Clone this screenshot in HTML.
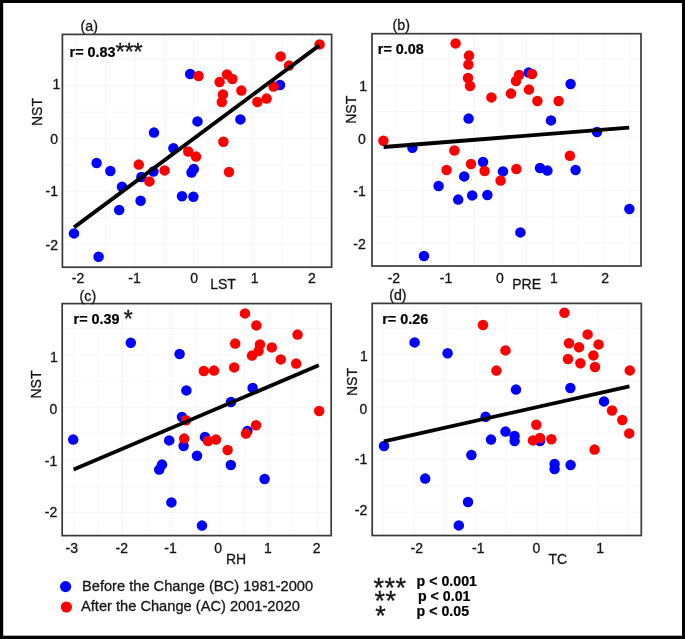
<!DOCTYPE html>
<html lang="en"><head><meta charset="utf-8"><title>NST correlations</title>
<style>html,body{margin:0;padding:0;background:#fff;}body{width:685px;height:639px;overflow:hidden;}svg{display:block;}text{font-family:"Liberation Sans", sans-serif;fill:#151515;stroke:#151515;stroke-width:0.3px;}.b{font-weight:bold;fill:#000;stroke:#000;stroke-width:0.2px;}</style></head><body>
<svg width="685" height="639" viewBox="0 0 685 639">
<defs><filter id="soft" x="0" y="0" width="685" height="639" filterUnits="userSpaceOnUse"><feColorMatrix type="matrix" values="1 0 0 0 0 0 1 0 0 0 0 0 1 0 0 0 0 0 1 0"/></filter></defs>
<rect x="0" y="0" width="685" height="639" fill="#fff"/>
<g filter="url(#soft)">
<g>
<rect x="62.4" y="34.4" width="269.2" height="232.8" fill="#fff"/>
<line x1="76.40" y1="34.4" x2="76.40" y2="267.2" stroke="#f6f6f6" stroke-width="1"/>
<line x1="105.75" y1="34.4" x2="105.75" y2="267.2" stroke="#f6f6f6" stroke-width="1"/>
<line x1="135.10" y1="34.4" x2="135.10" y2="267.2" stroke="#f6f6f6" stroke-width="1"/>
<line x1="164.45" y1="34.4" x2="164.45" y2="267.2" stroke="#f6f6f6" stroke-width="1"/>
<line x1="193.80" y1="34.4" x2="193.80" y2="267.2" stroke="#f6f6f6" stroke-width="1"/>
<line x1="223.15" y1="34.4" x2="223.15" y2="267.2" stroke="#f6f6f6" stroke-width="1"/>
<line x1="252.50" y1="34.4" x2="252.50" y2="267.2" stroke="#f6f6f6" stroke-width="1"/>
<line x1="281.85" y1="34.4" x2="281.85" y2="267.2" stroke="#f6f6f6" stroke-width="1"/>
<line x1="311.20" y1="34.4" x2="311.20" y2="267.2" stroke="#f6f6f6" stroke-width="1"/>
<line x1="62.4" y1="59.40" x2="331.6" y2="59.40" stroke="#f6f6f6" stroke-width="1"/>
<line x1="62.4" y1="85.80" x2="331.6" y2="85.80" stroke="#f6f6f6" stroke-width="1"/>
<line x1="62.4" y1="112.20" x2="331.6" y2="112.20" stroke="#f6f6f6" stroke-width="1"/>
<line x1="62.4" y1="138.60" x2="331.6" y2="138.60" stroke="#f6f6f6" stroke-width="1"/>
<line x1="62.4" y1="165.00" x2="331.6" y2="165.00" stroke="#f6f6f6" stroke-width="1"/>
<line x1="62.4" y1="191.40" x2="331.6" y2="191.40" stroke="#f6f6f6" stroke-width="1"/>
<line x1="62.4" y1="217.80" x2="331.6" y2="217.80" stroke="#f6f6f6" stroke-width="1"/>
<line x1="62.4" y1="244.20" x2="331.6" y2="244.20" stroke="#f6f6f6" stroke-width="1"/>
<circle cx="74.0" cy="233.4" r="5.25" fill="#0000ff"/>
<circle cx="98.6" cy="256.7" r="5.25" fill="#0000ff"/>
<circle cx="96.6" cy="163.0" r="5.25" fill="#0000ff"/>
<circle cx="110.4" cy="171.0" r="5.25" fill="#0000ff"/>
<circle cx="122.0" cy="186.8" r="5.25" fill="#0000ff"/>
<circle cx="119.2" cy="210.0" r="5.25" fill="#0000ff"/>
<circle cx="140.6" cy="200.7" r="5.25" fill="#0000ff"/>
<circle cx="141.4" cy="177.0" r="5.25" fill="#0000ff"/>
<circle cx="153.4" cy="171.5" r="5.25" fill="#0000ff"/>
<circle cx="154.0" cy="132.6" r="5.25" fill="#0000ff"/>
<circle cx="173.4" cy="148.3" r="5.25" fill="#0000ff"/>
<circle cx="182.0" cy="196.3" r="5.25" fill="#0000ff"/>
<circle cx="193.4" cy="196.8" r="5.25" fill="#0000ff"/>
<circle cx="191.5" cy="172.5" r="5.25" fill="#0000ff"/>
<circle cx="193.8" cy="169.0" r="5.25" fill="#0000ff"/>
<circle cx="197.5" cy="121.4" r="5.25" fill="#0000ff"/>
<circle cx="190.2" cy="74.0" r="5.25" fill="#0000ff"/>
<circle cx="240.4" cy="119.4" r="5.25" fill="#0000ff"/>
<circle cx="280.0" cy="85.0" r="5.25" fill="#0000ff"/>
<circle cx="319.6" cy="44.4" r="5.25" fill="#ff0000"/>
<circle cx="280.6" cy="56.4" r="5.25" fill="#ff0000"/>
<circle cx="289.0" cy="65.6" r="5.25" fill="#ff0000"/>
<circle cx="273.6" cy="86.6" r="5.25" fill="#ff0000"/>
<circle cx="266.6" cy="98.6" r="5.25" fill="#ff0000"/>
<circle cx="257.4" cy="102.0" r="5.25" fill="#ff0000"/>
<circle cx="241.4" cy="90.6" r="5.25" fill="#ff0000"/>
<circle cx="227.0" cy="74.4" r="5.25" fill="#ff0000"/>
<circle cx="232.4" cy="79.0" r="5.25" fill="#ff0000"/>
<circle cx="219.6" cy="82.0" r="5.25" fill="#ff0000"/>
<circle cx="223.0" cy="94.4" r="5.25" fill="#ff0000"/>
<circle cx="221.8" cy="102.0" r="5.25" fill="#ff0000"/>
<circle cx="198.6" cy="76.0" r="5.25" fill="#ff0000"/>
<circle cx="223.4" cy="141.8" r="5.25" fill="#ff0000"/>
<circle cx="196.0" cy="156.6" r="5.25" fill="#ff0000"/>
<circle cx="188.2" cy="151.5" r="5.25" fill="#ff0000"/>
<circle cx="138.8" cy="164.6" r="5.25" fill="#ff0000"/>
<circle cx="149.4" cy="181.4" r="5.25" fill="#ff0000"/>
<circle cx="164.6" cy="170.4" r="5.25" fill="#ff0000"/>
<circle cx="229.0" cy="172.0" r="5.25" fill="#ff0000"/>
<line x1="74.0" y1="227.4" x2="319.3" y2="45.4" stroke="#000" stroke-width="3.8"/>
<rect x="62.4" y="34.4" width="269.2" height="232.8" fill="none" stroke="#3a3a3a" stroke-width="1.7"/>
</g>
<g>
<rect x="372.0" y="33.7" width="269.0" height="232.3" fill="#fff"/>
<line x1="396.90" y1="33.7" x2="396.90" y2="266.0" stroke="#f6f6f6" stroke-width="1"/>
<line x1="422.80" y1="33.7" x2="422.80" y2="266.0" stroke="#f6f6f6" stroke-width="1"/>
<line x1="448.70" y1="33.7" x2="448.70" y2="266.0" stroke="#f6f6f6" stroke-width="1"/>
<line x1="474.60" y1="33.7" x2="474.60" y2="266.0" stroke="#f6f6f6" stroke-width="1"/>
<line x1="500.50" y1="33.7" x2="500.50" y2="266.0" stroke="#f6f6f6" stroke-width="1"/>
<line x1="526.40" y1="33.7" x2="526.40" y2="266.0" stroke="#f6f6f6" stroke-width="1"/>
<line x1="552.30" y1="33.7" x2="552.30" y2="266.0" stroke="#f6f6f6" stroke-width="1"/>
<line x1="578.20" y1="33.7" x2="578.20" y2="266.0" stroke="#f6f6f6" stroke-width="1"/>
<line x1="604.10" y1="33.7" x2="604.10" y2="266.0" stroke="#f6f6f6" stroke-width="1"/>
<line x1="630.00" y1="33.7" x2="630.00" y2="266.0" stroke="#f6f6f6" stroke-width="1"/>
<line x1="372.0" y1="59.10" x2="641.0" y2="59.10" stroke="#f6f6f6" stroke-width="1"/>
<line x1="372.0" y1="85.40" x2="641.0" y2="85.40" stroke="#f6f6f6" stroke-width="1"/>
<line x1="372.0" y1="111.70" x2="641.0" y2="111.70" stroke="#f6f6f6" stroke-width="1"/>
<line x1="372.0" y1="138.00" x2="641.0" y2="138.00" stroke="#f6f6f6" stroke-width="1"/>
<line x1="372.0" y1="164.30" x2="641.0" y2="164.30" stroke="#f6f6f6" stroke-width="1"/>
<line x1="372.0" y1="190.60" x2="641.0" y2="190.60" stroke="#f6f6f6" stroke-width="1"/>
<line x1="372.0" y1="216.90" x2="641.0" y2="216.90" stroke="#f6f6f6" stroke-width="1"/>
<line x1="372.0" y1="243.20" x2="641.0" y2="243.20" stroke="#f6f6f6" stroke-width="1"/>
<circle cx="468.6" cy="118.6" r="5.25" fill="#0000ff"/>
<circle cx="412.4" cy="147.8" r="5.25" fill="#0000ff"/>
<circle cx="528.6" cy="72.6" r="5.25" fill="#0000ff"/>
<circle cx="570.6" cy="84.0" r="5.25" fill="#0000ff"/>
<circle cx="551.0" cy="120.4" r="5.25" fill="#0000ff"/>
<circle cx="597.0" cy="132.0" r="5.25" fill="#0000ff"/>
<circle cx="483.0" cy="162.0" r="5.25" fill="#0000ff"/>
<circle cx="503.0" cy="171.4" r="5.25" fill="#0000ff"/>
<circle cx="464.2" cy="176.4" r="5.25" fill="#0000ff"/>
<circle cx="438.6" cy="186.0" r="5.25" fill="#0000ff"/>
<circle cx="458.2" cy="199.6" r="5.25" fill="#0000ff"/>
<circle cx="472.2" cy="195.4" r="5.25" fill="#0000ff"/>
<circle cx="487.4" cy="195.0" r="5.25" fill="#0000ff"/>
<circle cx="424.0" cy="256.0" r="5.25" fill="#0000ff"/>
<circle cx="540.0" cy="168.0" r="5.25" fill="#0000ff"/>
<circle cx="547.4" cy="170.6" r="5.25" fill="#0000ff"/>
<circle cx="575.6" cy="170.0" r="5.25" fill="#0000ff"/>
<circle cx="629.4" cy="209.0" r="5.25" fill="#0000ff"/>
<circle cx="520.4" cy="232.4" r="5.25" fill="#0000ff"/>
<circle cx="455.6" cy="43.4" r="5.25" fill="#ff0000"/>
<circle cx="469.0" cy="55.6" r="5.25" fill="#ff0000"/>
<circle cx="468.4" cy="64.6" r="5.25" fill="#ff0000"/>
<circle cx="468.0" cy="78.0" r="5.25" fill="#ff0000"/>
<circle cx="470.0" cy="86.0" r="5.25" fill="#ff0000"/>
<circle cx="491.4" cy="97.4" r="5.25" fill="#ff0000"/>
<circle cx="511.0" cy="93.6" r="5.25" fill="#ff0000"/>
<circle cx="519.0" cy="75.0" r="5.25" fill="#ff0000"/>
<circle cx="516.0" cy="81.0" r="5.25" fill="#ff0000"/>
<circle cx="532.0" cy="74.0" r="5.25" fill="#ff0000"/>
<circle cx="529.0" cy="89.6" r="5.25" fill="#ff0000"/>
<circle cx="537.4" cy="101.0" r="5.25" fill="#ff0000"/>
<circle cx="558.6" cy="101.0" r="5.25" fill="#ff0000"/>
<circle cx="383.4" cy="140.8" r="5.25" fill="#ff0000"/>
<circle cx="454.4" cy="150.5" r="5.25" fill="#ff0000"/>
<circle cx="471.0" cy="164.0" r="5.25" fill="#ff0000"/>
<circle cx="484.6" cy="171.0" r="5.25" fill="#ff0000"/>
<circle cx="500.6" cy="180.6" r="5.25" fill="#ff0000"/>
<circle cx="446.6" cy="170.0" r="5.25" fill="#ff0000"/>
<circle cx="569.9" cy="155.8" r="5.25" fill="#ff0000"/>
<circle cx="516.4" cy="169.0" r="5.25" fill="#ff0000"/>
<line x1="383.6" y1="147.0" x2="629.2" y2="127.6" stroke="#000" stroke-width="3.8"/>
<rect x="372.0" y="33.7" width="269.0" height="232.3" fill="none" stroke="#3a3a3a" stroke-width="1.7"/>
</g>
<g>
<rect x="62.2" y="303.6" width="269.0" height="232.0" fill="#fff"/>
<line x1="73.90" y1="303.6" x2="73.90" y2="535.6" stroke="#f6f6f6" stroke-width="1"/>
<line x1="98.25" y1="303.6" x2="98.25" y2="535.6" stroke="#f6f6f6" stroke-width="1"/>
<line x1="122.60" y1="303.6" x2="122.60" y2="535.6" stroke="#f6f6f6" stroke-width="1"/>
<line x1="146.95" y1="303.6" x2="146.95" y2="535.6" stroke="#f6f6f6" stroke-width="1"/>
<line x1="171.30" y1="303.6" x2="171.30" y2="535.6" stroke="#f6f6f6" stroke-width="1"/>
<line x1="195.65" y1="303.6" x2="195.65" y2="535.6" stroke="#f6f6f6" stroke-width="1"/>
<line x1="220.00" y1="303.6" x2="220.00" y2="535.6" stroke="#f6f6f6" stroke-width="1"/>
<line x1="244.35" y1="303.6" x2="244.35" y2="535.6" stroke="#f6f6f6" stroke-width="1"/>
<line x1="268.70" y1="303.6" x2="268.70" y2="535.6" stroke="#f6f6f6" stroke-width="1"/>
<line x1="293.05" y1="303.6" x2="293.05" y2="535.6" stroke="#f6f6f6" stroke-width="1"/>
<line x1="317.40" y1="303.6" x2="317.40" y2="535.6" stroke="#f6f6f6" stroke-width="1"/>
<line x1="62.2" y1="328.60" x2="331.2" y2="328.60" stroke="#f6f6f6" stroke-width="1"/>
<line x1="62.2" y1="355.00" x2="331.2" y2="355.00" stroke="#f6f6f6" stroke-width="1"/>
<line x1="62.2" y1="381.20" x2="331.2" y2="381.20" stroke="#f6f6f6" stroke-width="1"/>
<line x1="62.2" y1="407.40" x2="331.2" y2="407.40" stroke="#f6f6f6" stroke-width="1"/>
<line x1="62.2" y1="433.70" x2="331.2" y2="433.70" stroke="#f6f6f6" stroke-width="1"/>
<line x1="62.2" y1="460.00" x2="331.2" y2="460.00" stroke="#f6f6f6" stroke-width="1"/>
<line x1="62.2" y1="486.30" x2="331.2" y2="486.30" stroke="#f6f6f6" stroke-width="1"/>
<line x1="62.2" y1="512.60" x2="331.2" y2="512.60" stroke="#f6f6f6" stroke-width="1"/>
<circle cx="130.8" cy="342.8" r="5.25" fill="#0000ff"/>
<circle cx="179.6" cy="354.0" r="5.25" fill="#0000ff"/>
<circle cx="186.4" cy="390.4" r="5.25" fill="#0000ff"/>
<circle cx="182.0" cy="417.0" r="5.25" fill="#0000ff"/>
<circle cx="252.6" cy="388.0" r="5.25" fill="#0000ff"/>
<circle cx="231.0" cy="402.0" r="5.25" fill="#0000ff"/>
<circle cx="73.2" cy="439.6" r="5.25" fill="#0000ff"/>
<circle cx="169.2" cy="440.4" r="5.25" fill="#0000ff"/>
<circle cx="183.6" cy="446.0" r="5.25" fill="#0000ff"/>
<circle cx="197.0" cy="455.8" r="5.25" fill="#0000ff"/>
<circle cx="162.0" cy="464.6" r="5.25" fill="#0000ff"/>
<circle cx="159.2" cy="469.6" r="5.25" fill="#0000ff"/>
<circle cx="171.4" cy="502.4" r="5.25" fill="#0000ff"/>
<circle cx="202.0" cy="525.6" r="5.25" fill="#0000ff"/>
<circle cx="247.4" cy="431.0" r="5.25" fill="#0000ff"/>
<circle cx="205.0" cy="437.0" r="5.25" fill="#0000ff"/>
<circle cx="230.8" cy="465.0" r="5.25" fill="#0000ff"/>
<circle cx="264.6" cy="479.0" r="5.25" fill="#0000ff"/>
<circle cx="245.0" cy="313.4" r="5.25" fill="#ff0000"/>
<circle cx="256.4" cy="325.4" r="5.25" fill="#ff0000"/>
<circle cx="297.6" cy="334.6" r="5.25" fill="#ff0000"/>
<circle cx="235.2" cy="343.6" r="5.25" fill="#ff0000"/>
<circle cx="260.0" cy="344.4" r="5.25" fill="#ff0000"/>
<circle cx="258.6" cy="351.0" r="5.25" fill="#ff0000"/>
<circle cx="271.8" cy="347.4" r="5.25" fill="#ff0000"/>
<circle cx="252.0" cy="355.6" r="5.25" fill="#ff0000"/>
<circle cx="280.8" cy="359.4" r="5.25" fill="#ff0000"/>
<circle cx="296.2" cy="363.6" r="5.25" fill="#ff0000"/>
<circle cx="234.2" cy="367.4" r="5.25" fill="#ff0000"/>
<circle cx="203.8" cy="371.0" r="5.25" fill="#ff0000"/>
<circle cx="214.0" cy="370.6" r="5.25" fill="#ff0000"/>
<circle cx="319.2" cy="411.0" r="5.25" fill="#ff0000"/>
<circle cx="256.1" cy="425.3" r="5.25" fill="#ff0000"/>
<circle cx="246.0" cy="433.6" r="5.25" fill="#ff0000"/>
<circle cx="208.0" cy="441.0" r="5.25" fill="#ff0000"/>
<circle cx="216.0" cy="439.6" r="5.25" fill="#ff0000"/>
<circle cx="227.6" cy="450.0" r="5.25" fill="#ff0000"/>
<circle cx="186.0" cy="420.2" r="5.25" fill="#ff0000"/>
<circle cx="184.2" cy="438.6" r="5.25" fill="#ff0000"/>
<line x1="73.6" y1="469.6" x2="318.8" y2="365.3" stroke="#000" stroke-width="3.8"/>
<rect x="62.2" y="303.6" width="269.0" height="232.0" fill="none" stroke="#3a3a3a" stroke-width="1.7"/>
</g>
<g>
<rect x="372.2" y="303.4" width="269.1" height="232.1" fill="#fff"/>
<line x1="383.00" y1="303.4" x2="383.00" y2="535.5" stroke="#f6f6f6" stroke-width="1"/>
<line x1="414.00" y1="303.4" x2="414.00" y2="535.5" stroke="#f6f6f6" stroke-width="1"/>
<line x1="444.60" y1="303.4" x2="444.60" y2="535.5" stroke="#f6f6f6" stroke-width="1"/>
<line x1="475.00" y1="303.4" x2="475.00" y2="535.5" stroke="#f6f6f6" stroke-width="1"/>
<line x1="506.00" y1="303.4" x2="506.00" y2="535.5" stroke="#f6f6f6" stroke-width="1"/>
<line x1="536.80" y1="303.4" x2="536.80" y2="535.5" stroke="#f6f6f6" stroke-width="1"/>
<line x1="567.40" y1="303.4" x2="567.40" y2="535.5" stroke="#f6f6f6" stroke-width="1"/>
<line x1="598.00" y1="303.4" x2="598.00" y2="535.5" stroke="#f6f6f6" stroke-width="1"/>
<line x1="628.30" y1="303.4" x2="628.30" y2="535.5" stroke="#f6f6f6" stroke-width="1"/>
<line x1="372.2" y1="328.20" x2="641.3" y2="328.20" stroke="#f6f6f6" stroke-width="1"/>
<line x1="372.2" y1="354.40" x2="641.3" y2="354.40" stroke="#f6f6f6" stroke-width="1"/>
<line x1="372.2" y1="380.70" x2="641.3" y2="380.70" stroke="#f6f6f6" stroke-width="1"/>
<line x1="372.2" y1="407.00" x2="641.3" y2="407.00" stroke="#f6f6f6" stroke-width="1"/>
<line x1="372.2" y1="433.30" x2="641.3" y2="433.30" stroke="#f6f6f6" stroke-width="1"/>
<line x1="372.2" y1="459.60" x2="641.3" y2="459.60" stroke="#f6f6f6" stroke-width="1"/>
<line x1="372.2" y1="485.90" x2="641.3" y2="485.90" stroke="#f6f6f6" stroke-width="1"/>
<line x1="372.2" y1="512.20" x2="641.3" y2="512.20" stroke="#f6f6f6" stroke-width="1"/>
<circle cx="414.6" cy="342.4" r="5.25" fill="#0000ff"/>
<circle cx="447.6" cy="353.2" r="5.25" fill="#0000ff"/>
<circle cx="485.6" cy="416.8" r="5.25" fill="#0000ff"/>
<circle cx="516.0" cy="389.6" r="5.25" fill="#0000ff"/>
<circle cx="570.4" cy="388.0" r="5.25" fill="#0000ff"/>
<circle cx="604.0" cy="401.4" r="5.25" fill="#0000ff"/>
<circle cx="384.0" cy="446.0" r="5.25" fill="#0000ff"/>
<circle cx="491.0" cy="439.6" r="5.25" fill="#0000ff"/>
<circle cx="505.5" cy="431.6" r="5.25" fill="#0000ff"/>
<circle cx="471.4" cy="455.0" r="5.25" fill="#0000ff"/>
<circle cx="425.2" cy="478.6" r="5.25" fill="#0000ff"/>
<circle cx="468.0" cy="502.0" r="5.25" fill="#0000ff"/>
<circle cx="458.8" cy="525.4" r="5.25" fill="#0000ff"/>
<circle cx="514.6" cy="436.0" r="5.25" fill="#0000ff"/>
<circle cx="514.6" cy="441.0" r="5.25" fill="#0000ff"/>
<circle cx="540.0" cy="441.0" r="5.25" fill="#0000ff"/>
<circle cx="554.6" cy="464.0" r="5.25" fill="#0000ff"/>
<circle cx="554.6" cy="469.0" r="5.25" fill="#0000ff"/>
<circle cx="570.6" cy="465.0" r="5.25" fill="#0000ff"/>
<circle cx="483.0" cy="325.0" r="5.25" fill="#ff0000"/>
<circle cx="505.5" cy="350.4" r="5.25" fill="#ff0000"/>
<circle cx="496.4" cy="370.6" r="5.25" fill="#ff0000"/>
<circle cx="564.4" cy="312.8" r="5.25" fill="#ff0000"/>
<circle cx="587.6" cy="334.4" r="5.25" fill="#ff0000"/>
<circle cx="569.0" cy="343.2" r="5.25" fill="#ff0000"/>
<circle cx="579.0" cy="347.2" r="5.25" fill="#ff0000"/>
<circle cx="598.6" cy="344.4" r="5.25" fill="#ff0000"/>
<circle cx="593.4" cy="355.4" r="5.25" fill="#ff0000"/>
<circle cx="568.0" cy="359.0" r="5.25" fill="#ff0000"/>
<circle cx="580.4" cy="363.2" r="5.25" fill="#ff0000"/>
<circle cx="595.0" cy="367.0" r="5.25" fill="#ff0000"/>
<circle cx="629.8" cy="370.4" r="5.25" fill="#ff0000"/>
<circle cx="612.0" cy="410.5" r="5.25" fill="#ff0000"/>
<circle cx="622.3" cy="420.0" r="5.25" fill="#ff0000"/>
<circle cx="536.3" cy="424.7" r="5.25" fill="#ff0000"/>
<circle cx="629.2" cy="433.4" r="5.25" fill="#ff0000"/>
<circle cx="594.6" cy="449.6" r="5.25" fill="#ff0000"/>
<circle cx="540.0" cy="438.0" r="5.25" fill="#ff0000"/>
<circle cx="533.0" cy="440.4" r="5.25" fill="#ff0000"/>
<circle cx="551.4" cy="439.2" r="5.25" fill="#ff0000"/>
<line x1="384.0" y1="441.4" x2="629.4" y2="386.4" stroke="#000" stroke-width="3.8"/>
<rect x="372.2" y="303.4" width="269.1" height="232.1" fill="none" stroke="#3a3a3a" stroke-width="1.7"/>
</g>
<text x="80.6" y="31.0" font-size="14.2" text-anchor="start">(a)</text>
<text x="392.6" y="30.2" font-size="14.2" text-anchor="start">(b)</text>
<text x="79.6" y="300.7" font-size="14.2" text-anchor="start">(c)</text>
<text x="389.2" y="299.8" font-size="14.2" text-anchor="start">(d)</text>
<text x="69.6" y="57.0" font-size="14.4" text-anchor="start" class="b">r= 0.83</text>
<text x="377.8" y="54.3" font-size="14.4" text-anchor="start" class="b">r= 0.08</text>
<text x="73.6" y="323.6" font-size="14.4" text-anchor="start" class="b">r= 0.39</text>
<text x="382.2" y="324.0" font-size="14.4" text-anchor="start" class="b">r= 0.26</text>
<text x="60.4" y="89.0" font-size="14" text-anchor="end">1</text>
<text x="58.0" y="144.0" font-size="14" text-anchor="end">0</text>
<text x="58.0" y="196.0" font-size="14" text-anchor="end">-1</text>
<text x="58.0" y="249.6" font-size="14" text-anchor="end">-2</text>
<text x="367.1" y="90.8" font-size="14" text-anchor="end">1</text>
<text x="365.8" y="143.7" font-size="14" text-anchor="end">0</text>
<text x="365.8" y="195.8" font-size="14" text-anchor="end">-1</text>
<text x="365.8" y="249.4" font-size="14" text-anchor="end">-2</text>
<text x="57.7" y="362.4" font-size="14" text-anchor="end">1</text>
<text x="57.2" y="414.2" font-size="14" text-anchor="end">0</text>
<text x="57.2" y="466.1" font-size="14" text-anchor="end">-1</text>
<text x="57.2" y="516.9" font-size="14" text-anchor="end">-2</text>
<text x="367.7" y="361.3" font-size="14" text-anchor="end">1</text>
<text x="367.2" y="414.2" font-size="14" text-anchor="end">0</text>
<text x="367.2" y="463.6" font-size="14" text-anchor="end">-1</text>
<text x="367.2" y="515.3" font-size="14" text-anchor="end">-2</text>
<text font-size="14" text-anchor="middle" transform="translate(36.5,112.0) rotate(-90)" y="5">NST</text>
<text font-size="14" text-anchor="middle" transform="translate(351.2,109.8) rotate(-90)" y="5">NST</text>
<text font-size="14" text-anchor="middle" transform="translate(35.5,384.5) rotate(-90)" y="5">NST</text>
<text font-size="14" text-anchor="middle" transform="translate(351.5,382.0) rotate(-90)" y="5">NST</text>
<text x="78.0" y="282.7" font-size="14" text-anchor="middle">-2</text>
<text x="134.5" y="282.7" font-size="14" text-anchor="middle">-1</text>
<text x="194.2" y="282.7" font-size="14" text-anchor="middle">0</text>
<text x="254.6" y="282.7" font-size="14" text-anchor="middle">1</text>
<text x="311.8" y="282.7" font-size="14" text-anchor="middle">2</text>
<text x="393.9" y="282.7" font-size="14" text-anchor="middle">-2</text>
<text x="446.0" y="282.7" font-size="14" text-anchor="middle">-1</text>
<text x="499.8" y="282.7" font-size="14" text-anchor="middle">0</text>
<text x="553.8" y="282.7" font-size="14" text-anchor="middle">1</text>
<text x="605.2" y="282.7" font-size="14" text-anchor="middle">2</text>
<text x="71.8" y="553.4" font-size="14" text-anchor="middle">-3</text>
<text x="121.8" y="553.4" font-size="14" text-anchor="middle">-2</text>
<text x="170.5" y="553.4" font-size="14" text-anchor="middle">-1</text>
<text x="218.2" y="553.4" font-size="14" text-anchor="middle">0</text>
<text x="267.8" y="553.4" font-size="14" text-anchor="middle">1</text>
<text x="316.6" y="553.4" font-size="14" text-anchor="middle">2</text>
<text x="416.7" y="552.8" font-size="14" text-anchor="middle">-2</text>
<text x="478.2" y="552.8" font-size="14" text-anchor="middle">-1</text>
<text x="536.4" y="552.8" font-size="14" text-anchor="middle">0</text>
<text x="600.2" y="552.8" font-size="14" text-anchor="middle">1</text>
<text x="223.0" y="288.6" font-size="14" text-anchor="middle">LST</text>
<text x="526.6" y="288.6" font-size="14" text-anchor="middle">PRE</text>
<text x="236.0" y="564.4" font-size="14" text-anchor="middle">RH</text>
<text x="557.8" y="564.0" font-size="14" text-anchor="middle">TC</text>
<circle cx="65.6" cy="586.6" r="5.6" fill="#0000ff"/>
<circle cx="66.4" cy="607" r="5.6" fill="#ff0000"/>
<text x="82.0" y="591.0" font-size="14.65" text-anchor="start">Before the Change (BC) 1981-2000</text>
<text x="81.0" y="611.4" font-size="14.65" text-anchor="start">After the Change (AC) 2001-2020</text>
<text x="416.6" y="586.4" font-size="14.2" text-anchor="start" class="b">p &lt; 0.001</text>
<text x="418.0" y="601.0" font-size="14.2" text-anchor="start" class="b">p &lt; 0.01</text>
<text x="416.6" y="615.6" font-size="14.2" text-anchor="start" class="b">p &lt; 0.05</text>
<text x="373.6" y="597.3" font-size="27" text-anchor="start" fill="#000" stroke="#000" stroke-width="0.45">*</text>
<text x="384.6" y="597.3" font-size="27" text-anchor="start" fill="#000" stroke="#000" stroke-width="0.45">*</text>
<text x="395.6" y="597.3" font-size="27" text-anchor="start" fill="#000" stroke="#000" stroke-width="0.45">*</text>
<text x="374.4" y="610.2" font-size="27" text-anchor="start" fill="#000" stroke="#000" stroke-width="0.45">*</text>
<text x="385.4" y="610.2" font-size="27" text-anchor="start" fill="#000" stroke="#000" stroke-width="0.45">*</text>
<text x="375.3" y="625.2" font-size="27" text-anchor="start" fill="#000" stroke="#000" stroke-width="0.45">*</text>
<text x="115.5" y="59.6" font-size="24" text-anchor="start" fill="#000" stroke="#000" stroke-width="0.45">*</text>
<text x="124.4" y="59.6" font-size="24" text-anchor="start" fill="#000" stroke="#000" stroke-width="0.45">*</text>
<text x="133.3" y="59.6" font-size="24" text-anchor="start" fill="#000" stroke="#000" stroke-width="0.45">*</text>
<text x="123.7" y="326.8" font-size="23" text-anchor="start" fill="#000" stroke="#000" stroke-width="0.45">*</text>
</g>
<rect x="0" y="0" width="685" height="3" fill="#000"/>
<rect x="0" y="0" width="3.2" height="639" fill="#000"/>
<rect x="682" y="0" width="3" height="639" fill="#000"/>
<rect x="0" y="635.7" width="685" height="3.3" fill="#000"/>
</svg></body></html>
